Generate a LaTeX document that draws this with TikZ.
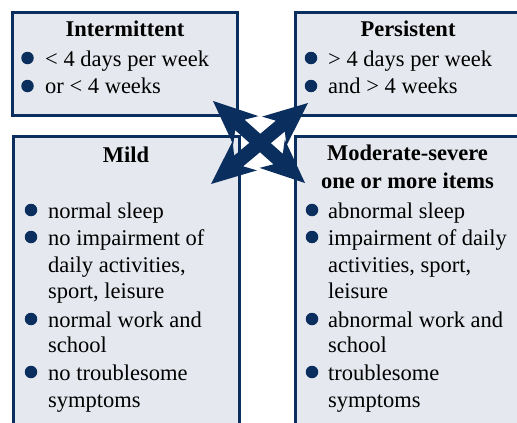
\documentclass[tikz,border=0pt]{standalone}
\usepackage{fontspec}
\setmainfont{Liberation Serif}
\usetikzlibrary{calc}
\definecolor{navy}{RGB}{10,46,94}
\definecolor{boxfill}{RGB}{229,232,238}
\definecolor{ink}{RGB}{0,0,0}
\newcommand\fatarrow[2]{%
  \fill[navy] (#1)
    -- ($(#1)!44pt!(#2)!19pt!90:(#2)$)
    -- ($(#1)!36pt!(#2)!7pt!90:(#2)$)
    -- ($(#2)!36pt!(#1)!7pt!-90:(#1)$)
    -- ($(#2)!44pt!(#1)!19pt!-90:(#1)$)
    -- (#2)
    -- ($(#2)!44pt!(#1)!19pt!90:(#1)$)
    -- ($(#2)!36pt!(#1)!7pt!90:(#1)$)
    -- ($(#1)!36pt!(#2)!7pt!-90:(#2)$)
    -- ($(#1)!44pt!(#2)!19pt!-90:(#2)$)
    -- cycle;}
\begin{document}
\begin{tikzpicture}[x=1pt,y=-1pt,
  panel/.style={draw=navy,line width=3pt,fill=boxfill},
  txt/.style={anchor=base west,inner sep=0pt,font=\fontsize{22.5}{26}\selectfont,text=ink},
  ttl/.style={anchor=base,inner sep=0pt,font=\fontsize{22.5}{26}\selectfont\bfseries,text=ink},
  dot/.style={circle,fill=navy,inner sep=0pt,minimum size=12.5pt}]
\useasboundingbox (0,0) rectangle (517,423);
\begin{scope}
\clip (0,0) rectangle (517,423);
\draw[panel] (12.5,12.5) rectangle (237.5,115);
\draw[panel] (295,12.5) rectangle (530,115);
\draw[panel] (13.5,136.5) rectangle (239,440);
\draw[panel] (295,136.5) rectangle (530,440);
\end{scope}
% Intermittent
\node[ttl] (t1) at (125,36) {Intermittent};
\node[dot] (d11) at (27.5,58) {};
\node[txt] (a11) at (45,66) {< 4 days per week};
\node[dot] (d12) at (27.5,86) {};
\node[txt] (a12) at (45,93) {or < 4 weeks};
% Persistent
\node[ttl] (t2) at (408,36) {Persistent};
\node[dot] (d21) at (311,58) {};
\node[txt] (a21) at (328,66) {> 4 days per week};
\node[dot] (d22) at (311,86) {};
\node[txt] (a22) at (328,93) {and > 4 weeks};
% Mild
\node[ttl] (t3) at (126,162) {Mild};
\node[dot] (d31) at (31,210) {};
\node[txt] (a31) at (48,218) {normal sleep};
\node[dot] (d32) at (31,237) {};
\node[txt] (a32) at (48,245) {no impairment of};
\node[txt] (a33) at (48,272) {daily activities,};
\node[txt] (a34) at (48,298) {sport, leisure};
\node[dot] (d33) at (31,319) {};
\node[txt] (a35) at (48,327) {normal work and};
\node[txt] (a36) at (48,352) {school};
\node[dot] (d34) at (31,372) {};
\node[txt] (a37) at (48,380) {no troublesome};
\node[txt] (a38) at (48,407) {symptoms};
% Moderate-severe
\node[ttl] (t4) at (407.5,160) {Moderate-severe};
\node[ttl] (t5) at (407.5,188) {one or more items};
\node[dot] (d41) at (312,210) {};
\node[txt] (a41) at (328,218) {abnormal sleep};
\node[dot] (d42) at (312,237) {};
\node[txt] (a42) at (328,245) {impairment of daily};
\node[txt] (a43) at (328,272) {activities, sport,};
\node[txt] (a44) at (328,298) {leisure};
\node[dot] (d43) at (312,319) {};
\node[txt] (a45) at (328,327) {abnormal work and};
\node[txt] (a46) at (328,352) {school};
\node[dot] (d44) at (312,372) {};
\node[txt] (a47) at (328,380) {troublesome};
\node[txt] (a48) at (328,407) {symptoms};
% crossing double arrows
\coordinate (tl) at (213,101);
\coordinate (br) at (305,183);
\coordinate (tr) at (308,103);
\coordinate (bl) at (211,184);
\fatarrow{tl}{br}
\fatarrow{tr}{bl}
\end{tikzpicture}
\end{document}
